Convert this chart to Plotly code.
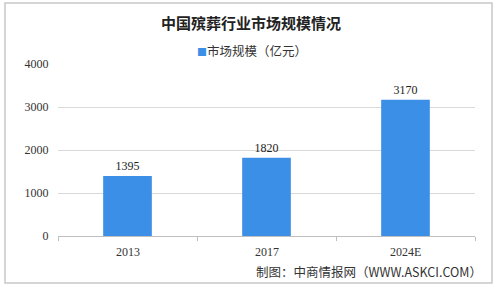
import plotly.graph_objects as go

categories = ["2013", "2017", "2024E"]
values = [1395, 1820, 3170]
series_name = "市场规模（亿元）"
title_text = "中国殡葬行业市场规模情况"
source_text = "制图：中商情报网（WWW.ASKCI.COM）"
y_ticks = [0, 1000, 2000, 3000, 4000]

W, H = 499, 286
L, R, T, B = 58, 24, 64, 50
pw, ph = W - L - R, H - T - B

def px_x(x):
    return (x - L) / pw

def px_y(y):
    return (H - B - y) / ph

serif = "SimSun, 'Liberation Serif', 'Noto Serif CJK SC', serif"
cjk = "'Noto Sans CJK SC', sans-serif"
bar_color = "#3b8fe6"

fig = go.Figure()
fig.add_trace(go.Bar(
    x=list(range(len(categories))), y=values, name=series_name,
    marker=dict(color=bar_color, line=dict(width=0)),
    width=0.35,
    text=[str(v) for v in values], textposition="outside",
    textfont=dict(family=serif, size=12, color="#222"),
    cliponaxis=False, showlegend=False,
))

fig.update_layout(
    width=W, height=H,
    margin=dict(l=L, r=R, t=T, b=B, pad=0),
    paper_bgcolor="white", plot_bgcolor="white",
    showlegend=False,
    xaxis=dict(showline=True, linecolor="#bfbfbf", linewidth=1,
               ticks="outside", ticklen=4, tickcolor="#bfbfbf",
               tickmode="array", tickvals=[-0.5, 0.5, 1.5, 2.5], ticktext=["", "", "", ""],
               range=[-0.5, 2.5], showgrid=False, fixedrange=True),
    yaxis=dict(range=[0, 4000], tickvals=y_ticks, ticktext=[str(t) for t in y_ticks],
               showgrid=True, gridcolor="#d9d9d9", gridwidth=1,
               zeroline=False, showline=False, ticks="outside", ticklen=6,
               tickcolor="rgba(0,0,0,0)",
               tickfont=dict(family=serif, size=12, color="#333")),
)

for i, c in enumerate(categories):
    fig.add_annotation(x=i, y=0, xref="x", yref="y", text=c, showarrow=False,
                       yshift=-16, font=dict(family=serif, size=12, color="#333"))

fig.add_annotation(x=px_x(251), y=px_y(22), xref="paper", yref="paper", text="<b>" + title_text + "</b>",
                   showarrow=False, xanchor="center", yanchor="middle",
                   font=dict(family=cjk, size=15, color="#222"))
fig.add_annotation(x=px_x(252), y=px_y(50), xref="paper", yref="paper",
                   text="<span style='color:%s;font-size:10px'>■</span>%s" % (bar_color, series_name),
                   showarrow=False, xanchor="center", yanchor="middle",
                   font=dict(family=cjk, size=12.5, color="#333"))
fig.add_annotation(x=px_x(484), y=px_y(271), xref="paper", yref="paper", text=source_text,
                   showarrow=False, xanchor="right", yanchor="middle",
                   font=dict(family=cjk, size=12.5, color="#333"))

fig.add_shape(type="rect", xref="paper", yref="paper",
              x0=px_x(5), x1=px_x(492), y0=px_y(283), y1=px_y(3),
              line=dict(color="#c8c8c8", width=1.5), fillcolor="rgba(0,0,0,0)", layer="below")

fig.write_html("out.html")
